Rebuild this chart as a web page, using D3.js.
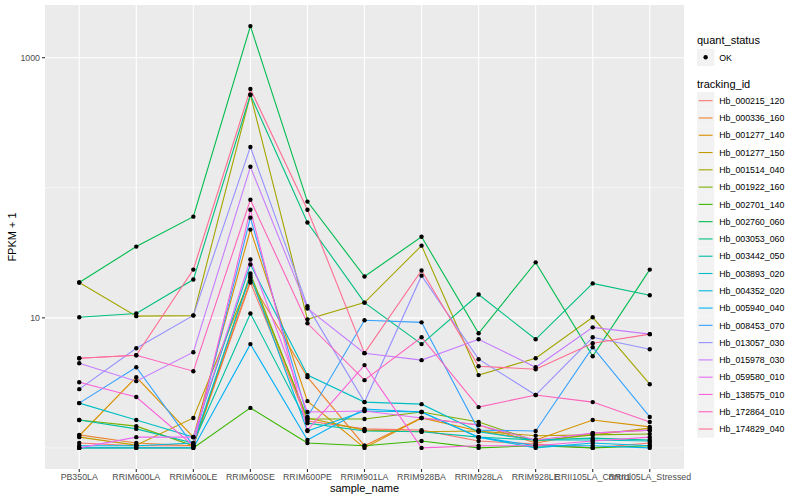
<!DOCTYPE html>
<html lang="en">
<head>
<meta charset="UTF-8">
<title>FPKM by sample</title>
<style>
    body{ margin:0; background:#fff; font-family: "Liberation Sans", Arial, Helvetica, sans-serif; }
    svg{ display:block; }
    .tick-label{ font-size:8.8px; fill:#4D4D4D; }
    .axis-title{ font-size:11px; fill:#000; }
    .legend-title{ font-size:11px; fill:#000; }
    .legend-label{ font-size:8.8px; fill:#000; }
</style>
<script src="https://d3js.org/d3.v7.min.js"></script>
</head>
<body>
<script>
var samples = ["PB350LA","RRIM600LA","RRIM600LE","RRIM600SE","RRIM600PE","RRIM901LA",
               "RRIM928BA","RRIM928LA","RRIM928LE","RRII105LA_Control","RRII105LA_Stressed"];
var trackingIds = ["Hb_000215_120","Hb_000336_160","Hb_001277_140","Hb_001277_150","Hb_001514_040",
                   "Hb_001922_160","Hb_002701_140","Hb_002760_060","Hb_003053_060","Hb_003442_050",
                   "Hb_003893_020","Hb_004352_020","Hb_005940_040","Hb_008453_070","Hb_013057_030",
                   "Hb_015978_030","Hb_059580_010","Hb_138575_010","Hb_172864_010","Hb_174829_040"];
var colors = ["#F8766D","#EA8331","#D89000","#C09B00","#A3A500","#7CAE00","#39B600","#00BB4E",
              "#00BF7D","#00C1A3","#00BFC4","#00BAE0","#00B0F6","#35A2FF","#9590FF","#C77CFF",
              "#E76BF3","#FA62DB","#FF62BC","#FF6C91"];
// FPKM + 1, one row per tracking_id, one value per sample
var fpkm = [
    [1.09, 1.04, 1.04, 18.7, 1.61, 1.40, 1.37, 1.13, 1.07, 1.0, 1.09],
    [1.26, 1.09, 1.04, 19.4, 3.50, 1.04, 1.70, 1.50, 1.09, 1.30, 1.37],
    [1.24, 3.50, 1.21, 47.7, 2.29, 1.0, 1.70, 1.35, 1.15, 1.64, 1.45],
    [1.21, 1.05, 1.70, 20.4, 1.70, 1.37, 1.33, 1.35, 1.24, 1.26, 1.42],
    [18.7, 10.3, 10.4, 519, 9.74, 13.1, 35.9, 3.63, 4.89, 10.1, 3.09],
    [1.64, 1.47, 1.04, 21.9, 1.67, 1.67, 1.89, 1.58, 1.13, 1.26, 1.28],
    [1.0, 1.0, 1.0, 2.03, 1.09, 1.04, 1.13, 1.0, 1.04, 1.0, 1.04],
    [18.7, 35.3, 60.0, 1750, 78.3, 20.8, 42.0, 7.61, 26.7, 5.07, 23.5],
    [10.1, 10.8, 19.7, 519, 54.1, 13.1, 6.28, 15.1, 6.84, 18.4, 14.9],
    [1.64, 1.40, 1.09, 10.8, 1.55, 1.35, 1.33, 1.21, 1.15, 1.19, 1.15],
    [2.21, 1.64, 1.21, 25.7, 3.63, 2.25, 2.17, 1.33, 1.15, 1.15, 1.13],
    [1.04, 1.04, 1.09, 21.1, 1.35, 1.92, 1.89, 1.21, 1.0, 1.09, 1.04],
    [1.0, 1.0, 1.0, 6.28, 1.15, 1.99, 1.89, 1.21, 1.04, 1.04, 1.0],
    [2.21, 4.17, 1.04, 58.9, 1.73, 9.57, 9.23, 1.37, 1.35, 5.94, 1.73],
    [2.83, 5.84, 10.45, 206, 12.3, 2.25, 21.1, 4.81, 2.55, 7.09, 5.74],
    [4.48, 3.26, 5.44, 145, 11.8, 5.35, 4.73, 6.84, 4.17, 8.45, 7.49],
    [1.0, 1.21, 1.21, 28.1, 1.89, 1.92, 1.70, 1.50, 1.15, 1.30, 1.37],
    [3.20, 2.46, 1.04, 67.8, 1.37, 4.33, 1.0, 1.04, 1.04, 1.13, 1.21],
    [4.89, 5.16, 3.89, 80.9, 9.08, 3.32, 7.09, 2.06, 2.55, 2.25, 1.58],
    [4.89, 5.16, 23.5, 575, 67.8, 5.35, 23.1, 4.25, 4.03, 6.38, 7.49]
];
var yMajor = [10, 1000];
var yMinor = [1, 100];
var yTickLabels = ["10", "1000"];

var W = 800, H = 500;
var panel = {left: 45, right: 684, top: 5, bottom: 469};

var svg = d3.select("body").append("svg").attr("width", W).attr("height", H);

// discrete x with 0.6 unit expansion on each side
var step = (panel.right - panel.left) / (samples.length - 1 + 1.2);
var x = d3.scalePoint()
    .domain(samples)
    .range([panel.left + 0.6 * step, panel.right - 0.6 * step]);

var all = d3.merge(fpkm);
var lo = Math.log10(d3.min(all)), hi = Math.log10(d3.max(all));
var pad = (hi - lo) * 0.05;
var y = d3.scaleLog()
    .domain([Math.pow(10, lo - pad), Math.pow(10, hi + pad)])
    .range([panel.bottom, panel.top]);

// panel background + grid
svg.append("rect")
    .attr("x", panel.left).attr("y", panel.top)
    .attr("width", panel.right - panel.left).attr("height", panel.bottom - panel.top)
    .attr("fill", "#EBEBEB");

var grid = svg.append("g").attr("stroke", "#fff");
grid.selectAll(".minor").data(yMinor).enter().append("line")
    .attr("x1", panel.left).attr("x2", panel.right)
    .attr("y1", function(d){ return y(d); }).attr("y2", function(d){ return y(d); })
    .attr("stroke-width", 0.55);
grid.selectAll(".major").data(yMajor).enter().append("line")
    .attr("x1", panel.left).attr("x2", panel.right)
    .attr("y1", function(d){ return y(d); }).attr("y2", function(d){ return y(d); })
    .attr("stroke-width", 1.1);
grid.selectAll(".vx").data(samples).enter().append("line")
    .attr("x1", function(d){ return x(d); }).attr("x2", function(d){ return x(d); })
    .attr("y1", panel.top).attr("y2", panel.bottom)
    .attr("stroke-width", 1.1);

// lines
var line = d3.line()
    .x(function(d, i){ return x(samples[i]); })
    .y(function(d){ return y(d); });

svg.append("g").selectAll("path").data(fpkm).enter().append("path")
    .attr("d", line)
    .attr("fill", "none")
    .attr("stroke", function(d, i){ return colors[i]; })
    .attr("stroke-width", 1.1);

// points
var pts = svg.append("g").attr("fill", "#000");
fpkm.forEach(function(row){
    row.forEach(function(v, j){
        pts.append("circle")
            .attr("cx", x(samples[j]))
            .attr("cy", y(v))
            .attr("r", 2.2);
    });
});

// axes
var axes = svg.append("g").attr("stroke", "#333").attr("stroke-width", 1.1);
samples.forEach(function(s){
    axes.append("line").attr("x1", x(s)).attr("x2", x(s))
        .attr("y1", panel.bottom).attr("y2", panel.bottom + 3);
});
yMajor.forEach(function(v){
    axes.append("line").attr("x1", panel.left - 3).attr("x2", panel.left)
        .attr("y1", y(v)).attr("y2", y(v));
});

svg.append("g").selectAll("text").data(samples).enter().append("text")
    .attr("class", "tick-label")
    .attr("x", function(d){ return x(d); })
    .attr("y", panel.bottom + 11)
    .attr("text-anchor", "middle")
    .text(function(d){ return d; });

svg.append("g").selectAll("text").data(yMajor).enter().append("text")
    .attr("class", "tick-label")
    .attr("x", panel.left - 5)
    .attr("y", function(d){ return y(d) + 3; })
    .attr("text-anchor", "end")
    .text(function(d, i){ return yTickLabels[i]; });

svg.append("text").attr("class", "axis-title")
    .attr("x", (panel.left + panel.right) / 2).attr("y", 492)
    .attr("text-anchor", "middle").text("sample_name");

svg.append("text").attr("class", "axis-title")
    .attr("transform", "translate(16," + ((panel.top + panel.bottom) / 2) + ") rotate(-90)")
    .attr("text-anchor", "middle").text("FPKM + 1");

// legends
var lx = 697, key = 17.28;
svg.append("text").attr("class", "legend-title").attr("x", lx).attr("y", 44).text("quant_status");
svg.append("rect").attr("x", lx).attr("y", 57.3 - key / 2).attr("width", key).attr("height", key).attr("fill", "#F2F2F2");
svg.append("circle").attr("cx", lx + key / 2).attr("cy", 57.3).attr("r", 2.2).attr("fill", "#000");
svg.append("text").attr("class", "legend-label").attr("x", lx + key + 5).attr("y", 60.5).text("OK");

svg.append("text").attr("class", "legend-title").attr("x", lx).attr("y", 88).text("tracking_id");
var leg = svg.append("g").selectAll("g").data(trackingIds).enter().append("g")
    .attr("transform", function(d, i){ return "translate(" + lx + "," + (100.7 + i * key) + ")"; });
leg.append("rect").attr("x", 0).attr("y", -key / 2).attr("width", key).attr("height", key).attr("fill", "#F2F2F2");
leg.append("line").attr("x1", 1.7).attr("x2", key - 1.7).attr("y1", 0).attr("y2", 0)
    .attr("stroke", function(d, i){ return colors[i]; }).attr("stroke-width", 1.1);
leg.append("text").attr("class", "legend-label").attr("x", key + 5).attr("y", 3.2)
    .text(function(d){ return d; });
</script>
</body>
</html>
